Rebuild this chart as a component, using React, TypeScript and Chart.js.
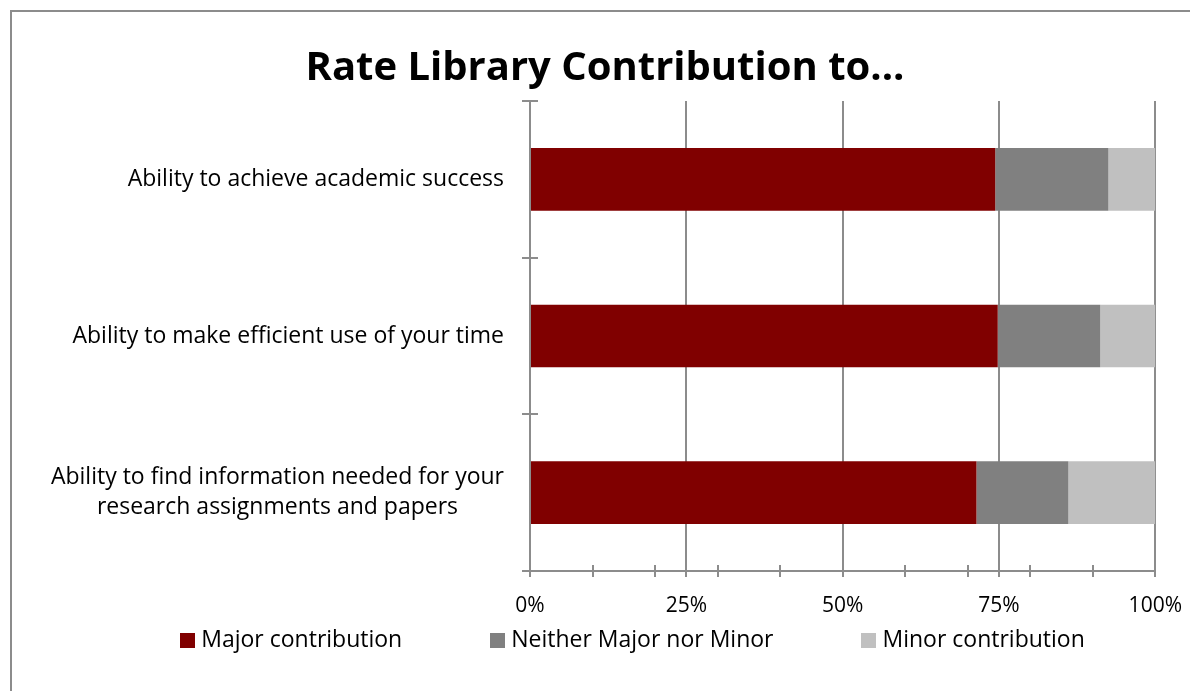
import React, { useEffect, useRef } from "react";
import { Chart, registerables } from "chart.js";

Chart.register(...registerables);

const TITLE = "Rate Library Contribution to...";
const categories: string[][] = [
  ["Ability to achieve academic success"],
  ["Ability to make efficient use of your time"],
  ["Ability to find information needed for your", "research assignments and papers"],
];
const seriesNames = ["Major contribution", "Neither Major nor Minor", "Minor contribution"];
const seriesColors = ["#800000", "#808080", "#C0C0C0"];
const majorValues = [74.4, 74.8, 71.4];
const neitherValues = [18.1, 16.4, 14.7];
const minorValues = [7.5, 8.8, 13.9];
const xTickLabels = ["0%", "25%", "50%", "75%", "100%"];
const minorTickValues = [0, 10, 20, 30, 40, 50, 60, 70, 80, 90, 100];

const FONT = "'Open Sans', sans-serif";
const AXIS_GREY = "#8c8c8c";
const W = 1186;
const H = 679;

const decorPlugin = {
  id: "decor",
  afterDraw(chart: any) {
    const { ctx, chartArea, scales } = chart;
    const x = scales.x;
    const y = scales.y;
    ctx.save();

    // title
    ctx.fillStyle = "#000";
    ctx.font = `bold 40px ${FONT}`;
    ctx.textAlign = "center";
    ctx.textBaseline = "alphabetic";
    ctx.fillText(TITLE, W / 2, 68);

    // category tick marks crossing the vertical axis
    ctx.strokeStyle = AXIS_GREY;
    ctx.lineWidth = 2;
    const n = categories.length;
    for (let i = 0; i <= n; i++) {
      const py = Math.round(chartArea.top + (i * (chartArea.bottom - chartArea.top)) / n);
      ctx.beginPath();
      ctx.moveTo(chartArea.left - 8, py);
      ctx.lineTo(chartArea.left + 8, py);
      ctx.stroke();
    }

    // minor tick marks crossing the horizontal axis
    for (const v of minorTickValues) {
      const px = Math.round(x.getPixelForValue(v));
      ctx.beginPath();
      ctx.moveTo(px, chartArea.bottom - 6);
      ctx.lineTo(px, chartArea.bottom + 6);
      ctx.stroke();
    }

    // category labels: block right-aligned, lines centered within the block
    ctx.fillStyle = "#000";
    ctx.font = `23px ${FONT}`;
    ctx.textBaseline = "middle";
    ctx.textAlign = "center";
    const rightEdge = chartArea.left - 26;
    const lineH = 30;
    categories.forEach((lines, i) => {
      const cy = y.getPixelForValue(i);
      const blockW = Math.max(...lines.map((l) => ctx.measureText(l).width));
      const cx = rightEdge - blockW / 2;
      lines.forEach((line, j) => {
        const ly = cy + (j - (lines.length - 1) / 2) * lineH;
        ctx.fillText(line, cx, ly);
      });
    });

    // legend row below the axis
    const ds = chart.data.datasets;
    ctx.font = `23px ${FONT}`;
    ctx.textAlign = "left";
    const box = 15;
    const gap = 6;
    const spacing = 88;
    const widths = ds.map((d: any) => box + gap + ctx.measureText(d.label).width);
    const total = widths.reduce((a: number, b: number) => a + b, 0) + spacing * (ds.length - 1);
    let lx = 620.5 - total / 2;
    const ly = 628;
    ds.forEach((d: any, i: number) => {
      ctx.fillStyle = d.backgroundColor;
      ctx.fillRect(Math.round(lx), Math.round(ly - box / 2), box, box);
      ctx.fillStyle = "#000";
      ctx.fillText(d.label, lx + box + gap, ly);
      lx += widths[i] + spacing;
    });
    ctx.restore();
  },
};

export default function App() {
  const ref = useRef<HTMLCanvasElement | null>(null);

  useEffect(() => {
    if (!ref.current) return;
    const values = [majorValues, neitherValues, minorValues];
    const chart = new Chart(ref.current, {
      type: "bar",
      data: {
        labels: categories.map((c) => c.join(" ")),
        datasets: seriesNames.map((name, i) => ({
          label: name,
          data: values[i],
          backgroundColor: seriesColors[i],
          borderWidth: 0,
          categoryPercentage: 1,
          barPercentage: 0.4,
        })),
      },
      options: {
        indexAxis: "y",
        responsive: false,
        animation: false,
        layout: { padding: { left: 96, right: 42, top: 89, bottom: 70 } },
        plugins: {
          title: { display: false },
          tooltip: { enabled: false },
          legend: { display: false },
        },
        scales: {
          x: {
            stacked: true,
            min: 0,
            max: 100,
            ticks: {
              stepSize: 25,
              color: "#000",
              font: { family: FONT, size: 21 },
              padding: 16,
              callback: (v: any) => xTickLabels[Math.round(Number(v) / 25)] ?? "",
            },
            grid: {
              color: AXIS_GREY,
              lineWidth: 2,
              drawTicks: true,
              tickLength: 6,
            },
            border: { display: true, color: AXIS_GREY, width: 2 },
            afterFit: (scale: any) => {
              scale.height = 50;
            },
          },
          y: {
            stacked: true,
            ticks: { display: false },
            grid: { display: false },
            border: { display: true, color: AXIS_GREY, width: 2 },
            afterFit: (scale: any) => {
              scale.width = 422;
            },
          },
        },
      },
      plugins: [decorPlugin],
    });
    return () => chart.destroy();
  }, []);

  return (
    <div
      style={{
        position: "fixed",
        left: 0,
        top: 0,
        width: 1190,
        height: 691,
        overflow: "hidden",
        background: "#fff",
      }}
    >
      <div
        style={{
          position: "absolute",
          left: 10,
          top: 10,
          width: 1200,
          height: 700,
          borderLeft: `2px solid ${AXIS_GREY}`,
          borderTop: `2px solid ${AXIS_GREY}`,
        }}
      >
        <canvas
          ref={ref}
          width={W}
          height={H}
          style={{ position: "absolute", left: 0, top: 0, width: W, height: H }}
        />
      </div>
    </div>
  );
}
